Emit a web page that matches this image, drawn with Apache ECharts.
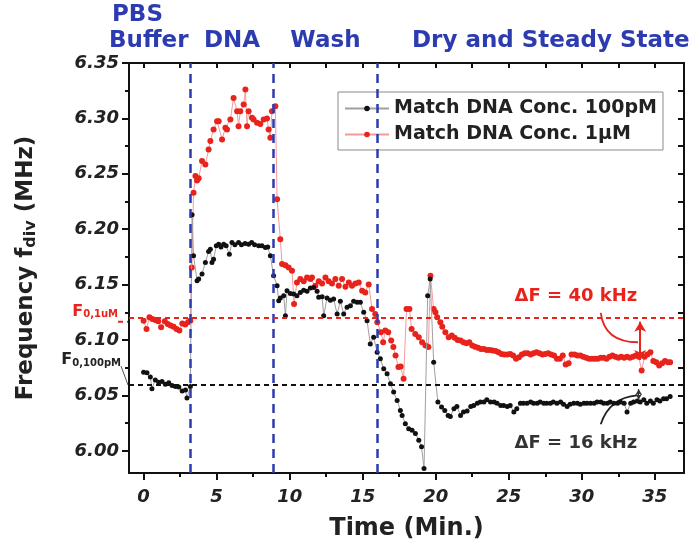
<!DOCTYPE html>
<html><head><meta charset="utf-8">
<script src="https://cdn.jsdelivr.net/npm/echarts@6/dist/echarts.min.js"></script>
<style>html,body{margin:0;padding:0;background:#fff}#c{width:692px;height:550px}</style>
</head><body><div id="c"></div>
<script>
// ---------- data ----------
const xTicks = [0, 5, 10, 15, 20, 25, 30, 35];
const xMinorTicks = [2.5, 7.5, 12.5, 17.5, 22.5, 27.5, 32.5];
const xAllTicks = [0, 2.5, 5, 7.5, 10, 12.5, 15, 17.5, 20, 22.5, 25, 27.5, 30, 32.5, 35];
const yTicks = [6.00, 6.05, 6.10, 6.15, 6.20, 6.25, 6.30, 6.35];
const yMinorTicks = [6.025, 6.075, 6.125, 6.175, 6.225, 6.275, 6.325];
const yAllTicks = [6.0, 6.025, 6.05, 6.075, 6.1, 6.125, 6.15, 6.175, 6.2, 6.225, 6.25, 6.275, 6.3, 6.325, 6.35];
const phaseNames = ['DNA', 'Wash', 'Dry and Steady State'];
const phaseBounds = [3.2, 8.9, 16.0];
const f0Red = 6.1166, f0Black = 6.0567;
const redSteady = 6.082, blackSteady = 6.046;
const seriesNames = ['Match DNA Conc. 100pM', 'Match DNA Conc. 1\u03bcM'];

const blackT = [
 0.0, 0.23, 0.46, 0.57, 0.8, 1.03, 1.26, 1.49, 1.72, 1.95, 2.18, 2.41, 2.64, 2.87, 2.97, 3.2,
 3.32, 3.42, 3.66, 3.77, 4.0, 4.23, 4.45, 4.57, 4.68, 4.79, 4.98, 5.14, 5.3, 5.48, 5.65, 5.87, 6.05, 6.25, 6.5, 6.7, 6.95, 7.19, 7.4, 7.6, 7.88, 8.1, 8.34, 8.5, 8.68,
 8.9, 9.14, 9.25, 9.36, 9.59, 9.71, 9.82, 10.05, 10.27, 10.5, 10.73, 10.96, 11.19, 11.42, 11.64, 11.88, 11.99, 12.22, 12.33, 12.56, 12.79, 13.01, 13.25, 13.47, 13.7, 13.93, 14.16, 14.38, 14.62, 14.84, 15.07, 15.3, 15.52, 15.75, 15.99,
 16.21, 16.44, 16.67, 16.9, 17.12, 17.36, 17.58, 17.7, 17.92, 18.15, 18.38, 18.61, 18.84, 19.03, 19.2, 19.45, 19.62, 19.86, 20.15, 20.4, 20.62, 20.85,
 21.0, 21.25, 21.45, 21.7, 21.9, 22.15, 22.4, 22.6, 22.85, 23.05, 23.3, 23.5, 23.75, 24.0, 24.2, 24.45, 24.65, 24.9, 25.1, 25.35, 25.55, 25.8, 26.0, 26.25, 26.5, 26.7, 26.95, 27.15, 27.4, 27.6, 27.85, 28.05, 28.3, 28.55, 28.75, 29.0, 29.2, 29.45, 29.7, 29.9, 30.15, 30.35, 30.6, 30.85, 31.05, 31.3, 31.5, 31.75, 31.95, 32.2, 32.45, 32.65, 32.9, 33.1, 33.35, 33.55, 33.8, 34.0, 34.25, 34.45, 34.7, 34.9, 35.15, 35.35, 35.6, 35.8, 36.05
];
const blackV = [
 6.071, 6.0705, 6.0666, 6.056, 6.064, 6.062, 6.0625, 6.060, 6.0615, 6.059, 6.058, 6.0575, 6.054, 6.055, 6.0477, 6.058,
 6.213, 6.176, 6.1535, 6.155, 6.1595, 6.170, 6.180, 6.182, 6.170, 6.173, 6.185, 6.1865, 6.184, 6.1865, 6.185, 6.1775, 6.188, 6.186, 6.188, 6.186, 6.187, 6.1865, 6.188, 6.186, 6.185, 6.185, 6.1835, 6.184, 6.176,
 6.158, 6.149, 6.1355, 6.138, 6.140, 6.122, 6.1445, 6.142, 6.1415, 6.140, 6.143, 6.145, 6.144, 6.147, 6.1475, 6.144, 6.1386, 6.139, 6.122, 6.138, 6.136, 6.137, 6.1235, 6.135, 6.1235, 6.1296, 6.131, 6.135, 6.134, 6.134, 6.125, 6.1175, 6.0965, 6.1026, 6.089,
 6.083, 6.074, 6.0695, 6.0605, 6.053, 6.0455, 6.0365, 6.032, 6.0245, 6.020, 6.0185, 6.0156, 6.0095, 6.0036, 5.984, 6.140, 6.155, 6.080, 6.044, 6.0396, 6.0365, 6.032,
 6.031, 6.038, 6.040, 6.032, 6.035, 6.036, 6.040, 6.041, 6.043, 6.044, 6.044, 6.046, 6.044, 6.044, 6.043, 6.041, 6.041, 6.040, 6.041, 6.035, 6.038, 6.043, 6.043, 6.043, 6.044, 6.043, 6.043, 6.044, 6.043, 6.043, 6.043, 6.044, 6.043, 6.044, 6.042, 6.040, 6.042, 6.043, 6.043, 6.042, 6.043, 6.043, 6.043, 6.043, 6.044, 6.044, 6.043, 6.043, 6.044, 6.043, 6.043, 6.044, 6.043, 6.035, 6.043, 6.044, 6.045, 6.044, 6.046, 6.043, 6.045, 6.043, 6.046, 6.045, 6.047, 6.047, 6.049
];
const redT = [
 0.0, 0.2, 0.4, 0.6, 0.8, 1.0, 1.2, 1.45, 1.65, 1.85, 2.05, 2.25, 2.45, 2.65, 2.85, 3.05, 3.2,
 3.3, 3.42, 3.55, 3.66, 3.77, 4.0, 4.23, 4.45, 4.57, 4.79, 5.03, 5.14, 5.37, 5.6, 5.71, 5.94, 6.16, 6.4, 6.5, 6.62, 6.85, 6.97, 7.08, 7.19, 7.42, 7.53, 7.77, 7.99, 8.22, 8.45, 8.56, 8.68, 8.79, 9.02,
 9.14, 9.36, 9.48, 9.71, 9.93, 10.16, 10.3, 10.5, 10.73, 10.96, 11.19, 11.42, 11.53, 11.76, 11.99, 12.22, 12.45, 12.67, 12.9, 13.13, 13.36, 13.59, 13.82, 14.05, 14.27, 14.5, 14.73, 14.96, 15.18, 15.41, 15.64, 15.86, 16.0,
 16.25, 16.4, 16.55, 16.75, 16.95, 17.1, 17.25, 17.45, 17.6, 17.8, 18.0, 18.2, 18.35, 18.6, 18.84, 19.07, 19.3, 19.5, 19.64, 19.86, 19.98, 20.1, 20.32, 20.45, 20.66, 20.89,
 21.1, 21.3, 21.5, 21.7, 21.9, 22.1, 22.3, 22.5, 22.7, 22.9, 23.1, 23.3, 23.5, 23.7, 23.9, 24.1, 24.3, 24.5, 24.7, 24.9, 25.1, 25.3, 25.5, 25.7, 25.9, 26.1, 26.3, 26.5, 26.7, 26.9, 27.1, 27.3, 27.5, 27.7, 27.9, 28.1, 28.3, 28.5, 28.7, 28.9, 29.1, 29.3, 29.5, 29.7, 29.9, 30.1, 30.3, 30.5, 30.7, 30.9, 31.1, 31.3, 31.5, 31.7, 31.9, 32.1, 32.3, 32.5, 32.7, 32.9, 33.1, 33.3, 33.5, 33.7, 33.9, 34.1, 34.3, 34.5, 34.7, 34.9, 35.1, 35.3, 35.5, 35.7, 35.9, 36.05
];
const redV = [
 6.1175, 6.110, 6.1206, 6.119, 6.118, 6.117, 6.1116, 6.117, 6.1145, 6.113, 6.112, 6.110, 6.1085, 6.115, 6.114, 6.116, 6.1175,
 6.1655, 6.233, 6.248, 6.244, 6.246, 6.2615, 6.2585, 6.272, 6.2795, 6.29, 6.2975, 6.2975, 6.281, 6.2915, 6.29, 6.299, 6.3185, 6.3065, 6.293, 6.3065, 6.3125, 6.326, 6.293, 6.3065, 6.3006, 6.299, 6.296, 6.295, 6.299, 6.300, 6.29, 6.2825, 6.3065, 6.311,
 6.227, 6.191, 6.1685, 6.1675, 6.1655, 6.1625, 6.1325, 6.152, 6.155, 6.153, 6.1565, 6.155, 6.1565, 6.149, 6.153, 6.151, 6.1565, 6.153, 6.151, 6.155, 6.149, 6.155, 6.148, 6.152, 6.149, 6.151, 6.152, 6.1445, 6.143, 6.150, 6.128, 6.1235, 6.116,
 6.107, 6.098, 6.1085, 6.107, 6.0995, 6.0936, 6.086, 6.0756, 6.076, 6.065, 6.128, 6.128, 6.110, 6.1055, 6.1026, 6.098, 6.095, 6.0936, 6.158, 6.128, 6.125, 6.1206, 6.116, 6.112, 6.107, 6.1026,
 6.104, 6.102, 6.100, 6.0995, 6.098, 6.097, 6.098, 6.095, 6.094, 6.093, 6.092, 6.092, 6.091, 6.091, 6.0905, 6.090, 6.089, 6.0875, 6.087, 6.087, 6.0875, 6.086, 6.083, 6.0845, 6.087, 6.088, 6.088, 6.087, 6.088, 6.089, 6.088, 6.087, 6.0875, 6.088, 6.087, 6.086, 6.083, 6.083, 6.086, 6.078, 6.079, 6.087, 6.087, 6.086, 6.086, 6.085, 6.084, 6.083, 6.083, 6.083, 6.083, 6.084, 6.084, 6.083, 6.085, 6.086, 6.085, 6.084, 6.085, 6.084, 6.085, 6.084, 6.085, 6.086, 6.085, 6.0725, 6.085, 6.087, 6.089, 6.081, 6.080, 6.077, 6.079, 6.081, 6.080, 6.080
];

// ---------- chart ----------
const FONT = 'DejaVu Sans';
const BLUE = '#2c3cb0';
const RED = '#e8231c';
const zip = (a, b) => a.map((t, i) => [t, b[i]]);
const chart = echarts.init(document.getElementById('c'), null, {renderer: 'canvas'});

const axisLineStyle = {color: '#111', width: 2};
const tickStyle = {color: '#111', width: 2};
const baseX = {type: 'value', min: -1, max: 37, splitLine: {show: false}};
const baseY = {type: 'value', min: 5.98, max: 6.35, splitLine: {show: false}};

const option = {
  animation: false,
  backgroundColor: '#fff',
  grid: {left: 129, right: 8, top: 63, bottom: 77, containLabel: false},
  xAxis: [
    Object.assign({}, baseX, {
      position: 'bottom',
      axisLine: {show: true, onZero: false, lineStyle: axisLineStyle},
      axisTick: {show: true, customValues: xTicks, length: 7, lineStyle: tickStyle},
      axisLabel: {customValues: xTicks, fontFamily: FONT, fontWeight: 'bold', fontStyle: 'italic', fontSize: 18, color: '#222', margin: 15},
      name: 'Time (Min.)', nameLocation: 'middle', nameGap: 44,
      nameTextStyle: {fontFamily: FONT, fontWeight: 'bold', fontSize: 24, color: '#222'}
    }),
    Object.assign({}, baseX, {
      position: 'bottom',
      axisLine: {show: false, onZero: false},
      axisTick: {show: true, customValues: xMinorTicks, length: 4, lineStyle: tickStyle},
      axisLabel: {show: false}
    }),
    Object.assign({}, baseX, {
      position: 'top',
      axisLine: {show: true, onZero: false, lineStyle: axisLineStyle},
      axisTick: {show: true, inside: true, customValues: xAllTicks, length: 5, lineStyle: tickStyle},
      axisLabel: {show: false}
    })
  ],
  yAxis: [
    Object.assign({}, baseY, {
      position: 'left',
      axisLine: {show: true, onZero: false, lineStyle: axisLineStyle},
      axisTick: {show: true, customValues: yTicks, length: 7, lineStyle: tickStyle},
      axisLabel: {customValues: yTicks, formatter: v => v.toFixed(2), fontFamily: FONT, fontWeight: 'bold', fontStyle: 'italic', fontSize: 18, color: '#222', margin: 10},
      name: '{a|Frequency f}{s|div}{a| (MHz)}', nameLocation: 'middle', nameGap: 90, nameRotate: 90,
      nameTextStyle: {rich: {
        a: {fontFamily: FONT, fontWeight: 'bold', fontSize: 23, color: '#222'},
        s: {fontFamily: FONT, fontWeight: 'bold', fontSize: 16, color: '#222', verticalAlign: 'bottom', padding: [10, 0, 0, 0]}
      }}
    }),
    Object.assign({}, baseY, {
      position: 'left',
      axisLine: {show: false, onZero: false},
      axisTick: {show: true, customValues: yMinorTicks, length: 4, lineStyle: tickStyle},
      axisLabel: {show: false}
    }),
    Object.assign({}, baseY, {
      position: 'right',
      axisLine: {show: true, onZero: false, lineStyle: axisLineStyle},
      axisTick: {show: true, inside: true, customValues: yAllTicks, length: 6, lineStyle: tickStyle},
      axisLabel: {show: false}
    })
  ],
  legend: {
    data: seriesNames,
    left: 338, top: 92, orient: 'vertical',
    itemWidth: 44, itemHeight: 7, itemGap: 7,
    borderColor: '#8a8a8a', borderWidth: 1, borderRadius: 0,
    padding: [7, 6, 6, 6],
    backgroundColor: '#fff',
    textStyle: {fontFamily: FONT, fontWeight: 'bold', fontSize: 19, color: '#222'}
  },
  series: [
    {
      name: seriesNames[0], type: 'line', data: zip(blackT, blackV),
      symbol: 'circle', symbolSize: 5, z: 4,
      itemStyle: {color: '#111'}, lineStyle: {color: '#a0a0a0', width: 1}
    },
    {
      name: seriesNames[1], type: 'line', data: zip(redT, redV),
      symbol: 'circle', symbolSize: 6, z: 3,
      itemStyle: {color: RED}, lineStyle: {color: '#f49a9a', width: 1}
    },
    {
      name: 'guides', type: 'line', data: [], z: 2,
      markLine: {
        silent: true, symbol: 'none', animation: false,
        label: {show: false},
        data: [
          ...phaseBounds.map(t => ({xAxis: t, lineStyle: {color: BLUE, width: 2.5, type: [9, 6]}})),
          {yAxis: f0Red, lineStyle: {color: RED, width: 2, type: [5, 4]}},
          {yAxis: f0Black, lineStyle: {color: '#111', width: 2, type: [5, 4]}}
        ]
      }
    },
    {
      name: 'arrows', type: 'line', data: [], z: 6,
      markLine: {
        silent: true, animation: false, label: {show: false},
        symbol: ['arrow', 'arrow'], symbolSize: [9, 10],
        data: [
          [{coord: [34.0, f0Red], lineStyle: {color: RED, width: 2, type: 'solid'}}, {coord: [34.0, redSteady]}],
          [{coord: [33.9, f0Black - 0.001], symbolSize: [5, 6], lineStyle: {color: '#333', width: 1.2, type: 'solid'}}, {coord: [33.9, blackSteady], symbolSize: [5, 6]}]
        ]
      }
    }
  ]
};
chart.setOption(option);

// ---------- annotations ----------
const px = (t, v) => chart.convertToPixel({xAxisIndex: 0, yAxisIndex: 0}, [t, v]);
const pRed = px(-1, f0Red), pBlack = px(-1, f0Black);
const topText = (txt, x, y, align) => ({
  type: 'text', x: x, y: y, silent: true,
  style: {text: txt, fill: BLUE, font: 'bold 23px "' + FONT + '"', align: align || 'center', verticalAlign: 'middle'}
});
const curve = (a, c, b, color) => ({
  type: 'bezierCurve', silent: true,
  shape: {x1: a[0], y1: a[1], cpx1: c[0], cpy1: c[1], x2: b[0], y2: b[1]},
  style: {stroke: color, lineWidth: 1.8, fill: null}
});
chart.setOption({
  graphic: [
    topText('PBS', 112, 15, 'left'),
    topText('Buffer', 109, 41, 'left'),
    topText(phaseNames[0], px((phaseBounds[0] + phaseBounds[1]) / 2, 6.3)[0], 41),
    topText(phaseNames[1], px((phaseBounds[1] + phaseBounds[2]) / 2, 6.3)[0], 41),
    topText(phaseNames[2], 412, 41, 'left'),
    {type: 'line', silent: true, shape: {x1: pRed[0] - 11, y1: pRed[1], x2: pRed[0], y2: pRed[1]},
     style: {stroke: RED, lineWidth: 2, lineDash: [5, 4]}},
    {type: 'text', silent: true, x: pRed[0] - 11, y: pRed[1] - 2,
     style: {text: '{f|F}{s|0,1uM}', align: 'right', verticalAlign: 'bottom',
       rich: {f: {font: 'bold 16px "' + FONT + '"', fill: RED}, s: {font: 'bold 10px "' + FONT + '"', fill: RED, padding: [6, 0, 0, 0]}}}},
    {type: 'text', silent: true, x: pBlack[0] - 8, y: pBlack[1] - 20,
     style: {text: '{f|F}{s|0,100pM}', align: 'right', verticalAlign: 'bottom',
       rich: {f: {font: 'bold 16px "' + FONT + '"', fill: '#222'}, s: {font: 'bold 10px "' + FONT + '"', fill: '#222', padding: [6, 0, 0, 0]}}}},
    {type: 'line', silent: true, shape: {x1: pBlack[0] - 8, y1: pBlack[1] - 22, x2: pBlack[0] - 1, y2: pBlack[1] - 3},
     style: {stroke: '#555', lineWidth: 1}},
    curve(px(31.3, 6.1245), px(31.55, 6.098), px(33.85, 6.098), RED),
    curve(px(31.3, 6.024), px(31.9, 6.048), px(33.8, 6.050), '#222'),
    {type: 'text', silent: true, x: px(25.4, 6.0)[0], y: px(26, 6.1397)[1],
     style: {text: '\u0394F = 40 kHz', fill: RED, font: 'bold 18px "' + FONT + '"', align: 'left', verticalAlign: 'middle'}},
    {type: 'text', silent: true, x: px(25.4, 6.0)[0], y: px(26, 6.0066)[1],
     style: {text: '\u0394F = 16 kHz', fill: '#333', font: 'bold 18px "' + FONT + '"', align: 'left', verticalAlign: 'middle'}}
  ]
});
</script></body></html>
